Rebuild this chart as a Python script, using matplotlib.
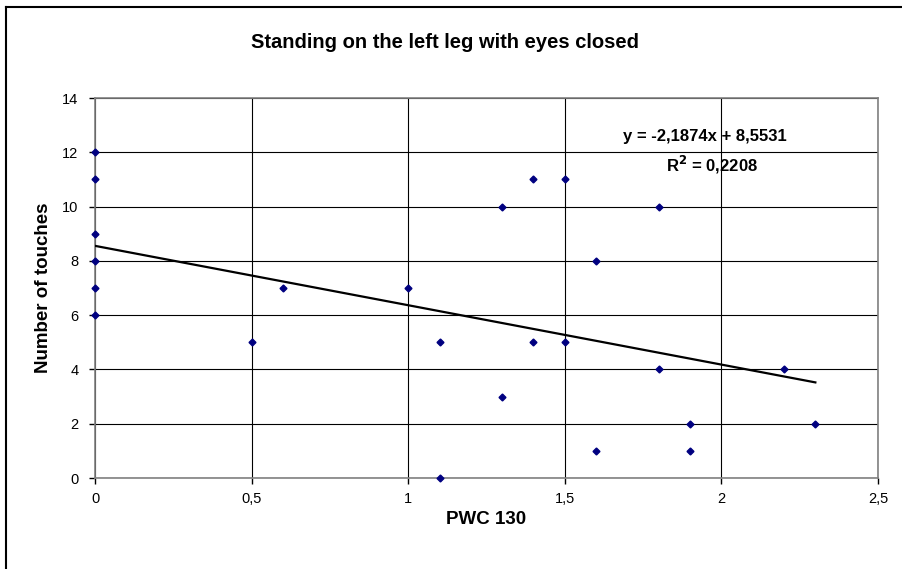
import numpy as np
import matplotlib.pyplot as plt
from matplotlib.ticker import FuncFormatter, MultipleLocator

plt.rcParams['font.family'] = ['Liberation Sans', 'DejaVu Sans']

# PWC 130 vs number of touches
pwc = [0, 0, 0, 0, 0, 0, 0.5, 0.6, 1.0, 1.1, 1.1, 1.3, 1.3, 1.4, 1.4,
       1.5, 1.5, 1.6, 1.6, 1.8, 1.8, 1.9, 1.9, 2.2, 2.3]
touches = [12, 11, 9, 8, 7, 6, 5, 7, 7, 5, 0, 10, 3, 11, 5,
           11, 5, 8, 1, 10, 4, 2, 1, 4, 2]

# linear trend
slope = -2.1874
intercept = 8.5531
r2 = 0.2208

W, H = 902, 569
fig = plt.figure(figsize=(W / 100, H / 100), dpi=100)
ax = fig.add_axes([95 / W, 1 - 478 / H, 783 / W, 380 / H])

# chart border
fig.add_artist(plt.Line2D([6 / W, 6 / W], [0, 1 - 7 / H], transform=fig.transFigure,
                          color='black', lw=1.5))
fig.add_artist(plt.Line2D([6 / W, 1], [1 - 7 / H, 1 - 7 / H], transform=fig.transFigure,
                          color='black', lw=1.5))

ax.set_xlim(0, 2.5)
ax.set_ylim(0, 14)
ax.xaxis.set_major_locator(MultipleLocator(0.5))
ax.yaxis.set_major_locator(MultipleLocator(2))
comma = FuncFormatter(lambda v, p: ('%g' % v).replace('.', ','))
ax.xaxis.set_major_formatter(comma)
ax.yaxis.set_major_formatter(comma)
ax.grid(True, color='black', lw=0.8)
ax.set_axisbelow(True)
for s in ax.spines.values():
    s.set_color('#808080')
    s.set_linewidth(1.2)
ax.tick_params(direction='out', length=4, width=1, color='black',
               labelsize=10.5, pad=6)
ax.tick_params(axis='y', pad=8)

xs = np.array([0, max(pwc)])
ax.plot(xs, slope * xs + intercept, color='black', lw=1.6, zorder=3)
ax.plot(pwc, touches, linestyle='none', marker='D', markersize=3.5,
        color='#000080', zorder=4, clip_on=False)

fmt = lambda v: str(v).replace('.', ',')
fig.text(705 / W, 1 - 137 / H, 'y = %s' % fmt(slope) + 'x + %s' % fmt(intercept),
         fontsize=12, fontweight='bold', ha='center', va='center')
fig.text(712 / W, 1 - 165 / H, r'R$^{\mathbf{2}}$ = ' + fmt(r2),
         fontsize=12, fontweight='bold', ha='center', va='center')

fig.text(0.4935, 1 - 43 / H, 'Standing on the left leg with eyes closed',
         fontsize=14.5, fontweight='bold', ha='center', va='center')
ax.set_xlabel('PWC 130', fontsize=13.5, fontweight='bold', labelpad=4)
ax.set_ylabel('Number of touches', fontsize=13.5, fontweight='bold', labelpad=7)

fig.savefig('out.png', dpi=100)
